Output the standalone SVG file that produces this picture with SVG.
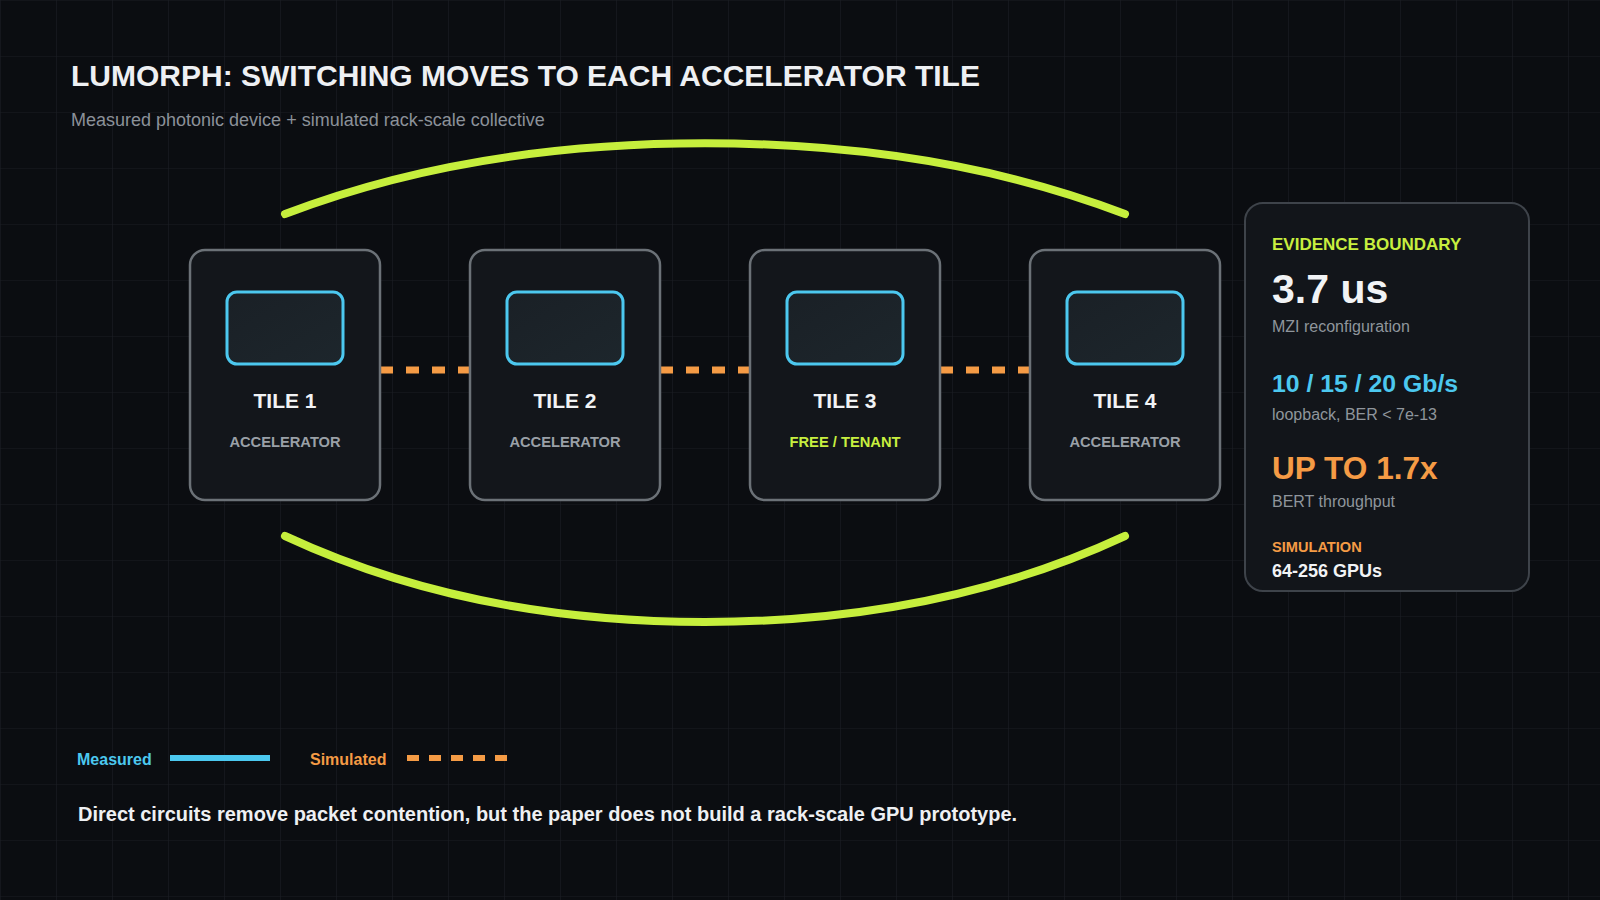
<svg xmlns="http://www.w3.org/2000/svg" width="1600" height="900" viewBox="0 0 1600 900">
  <defs>
    <pattern id="grid" width="56" height="56" patternUnits="userSpaceOnUse">
      <path d="M56 0 L0 0 L0 56" fill="none" stroke="#1b1e24" stroke-width="1.2"/>
    </pattern>
    <linearGradient id="screenFill" x1="0" y1="0" x2="1" y2="1">
      <stop offset="0" stop-color="#1a2026"/>
      <stop offset="1" stop-color="#1d262c"/>
    </linearGradient>
  </defs>
  <style>
    .sans { font-family: "Liberation Sans", Arial, Helvetica, sans-serif; }
    .tile { fill: #13161b; stroke: #6b7177; stroke-width: 2.5; }
    .screen { fill: url(#screenFill); stroke: #4cc8ef; stroke-width: 3; }
    .tname { font-family: "Liberation Sans", Arial, sans-serif; font-weight: 700; font-size: 21px; fill: #f1f3f5; text-anchor: middle; }
    .trole { font-family: "Liberation Sans", Arial, sans-serif; font-weight: 700; font-size: 14.7px; fill: #9aa0a7; text-anchor: middle; }
    .arc { fill: none; stroke: #c6ef3d; stroke-width: 8; stroke-linecap: round; }
    .sim { fill: none; stroke: #f59b45; stroke-width: 7; stroke-dasharray: 13 13; }
    .ptext { font-family: "Liberation Sans", Arial, sans-serif; }
    .muted { fill: #8f959c; font-size: 16px; font-weight: 400; }
  </style>

  <rect x="0" y="0" width="1600" height="900" fill="#0b0d11"/>
  <rect x="0" y="0" width="1600" height="900" fill="url(#grid)"/>

  <g id="header">
    <text class="sans" x="71" y="86" font-size="30" font-weight="700" fill="#eef0f3">LUMORPH: SWITCHING MOVES TO EACH ACCELERATOR TILE</text>
    <text class="sans" x="71" y="126" font-size="18" fill="#8b9199">Measured photonic device + simulated rack-scale collective</text>
  </g>

  <g id="connectors">
    <path class="arc" d="M285 214 Q470 143.3 705 143.3 Q940 143.3 1125 214"/>
    <path class="arc" d="M285 536 Q470 622 705 622 Q940 622 1125 536"/>
    <line class="sim" x1="380" y1="370" x2="470" y2="370"/>
    <line class="sim" x1="660" y1="370" x2="750" y2="370"/>
    <line class="sim" x1="940" y1="370" x2="1030" y2="370"/>
  </g>

  <g id="tile1">
    <rect class="tile" x="190" y="250" width="190" height="250" rx="15"/>
    <rect class="screen" x="227" y="292" width="116" height="72" rx="10"/>
    <text class="tname" x="285" y="408">TILE 1</text>
    <text class="trole" x="285" y="447">ACCELERATOR</text>
  </g>
  <g id="tile2">
    <rect class="tile" x="470" y="250" width="190" height="250" rx="15"/>
    <rect class="screen" x="507" y="292" width="116" height="72" rx="10"/>
    <text class="tname" x="565" y="408">TILE 2</text>
    <text class="trole" x="565" y="447">ACCELERATOR</text>
  </g>
  <g id="tile3">
    <rect class="tile" x="750" y="250" width="190" height="250" rx="15"/>
    <rect class="screen" x="787" y="292" width="116" height="72" rx="10"/>
    <text class="tname" x="845" y="408">TILE 3</text>
    <text class="trole" x="845" y="447" style="fill:#c8ef3f">FREE / TENANT</text>
  </g>
  <g id="tile4">
    <rect class="tile" x="1030" y="250" width="190" height="250" rx="15"/>
    <rect class="screen" x="1067" y="292" width="116" height="72" rx="10"/>
    <text class="tname" x="1125" y="408">TILE 4</text>
    <text class="trole" x="1125" y="447">ACCELERATOR</text>
  </g>

  <g id="evidence-panel">
    <rect x="1245" y="203" width="284" height="388" rx="18" fill="#12151a" stroke="#3e434a" stroke-width="2"/>
    <text class="ptext" x="1272" y="250" font-size="17" font-weight="700" fill="#c8ef3f">EVIDENCE BOUNDARY</text>
    <text class="ptext" x="1272" y="303" font-size="41" font-weight="700" fill="#f1f3f5">3.7 us</text>
    <text class="ptext muted" x="1272" y="332">MZI reconfiguration</text>
    <text class="ptext" x="1272" y="392" font-size="24.8" font-weight="700" fill="#4cc8ef">10 / 15 / 20 Gb/s</text>
    <text class="ptext muted" x="1272" y="420">loopback, BER &lt; 7e-13</text>
    <text class="ptext" x="1272" y="479" font-size="31.6" font-weight="700" fill="#f59b45">UP TO 1.7x</text>
    <text class="ptext muted" x="1272" y="507">BERT throughput</text>
    <text class="ptext" x="1272" y="552" font-size="14.6" font-weight="700" fill="#f59b45">SIMULATION</text>
    <text class="ptext" x="1272" y="577" font-size="18" font-weight="700" fill="#f1f3f5">64-256 GPUs</text>
  </g>

  <g id="legend">
    <text class="sans" x="77" y="765" font-size="16" font-weight="700" fill="#4cc8ef">Measured</text>
    <line x1="170" y1="758" x2="270" y2="758" stroke="#4cc8ef" stroke-width="6"/>
    <text class="sans" x="310" y="765" font-size="16" font-weight="700" fill="#f59b45">Simulated</text>
    <line x1="407" y1="758" x2="507" y2="758" stroke="#f59b45" stroke-width="6" stroke-dasharray="12 10"/>
  </g>

  <g id="footer">
    <text class="sans" x="78" y="821" font-size="20" font-weight="700" fill="#eef0f3">Direct circuits remove packet contention, but the paper does not build a rack-scale GPU prototype.</text>
  </g>
</svg>
